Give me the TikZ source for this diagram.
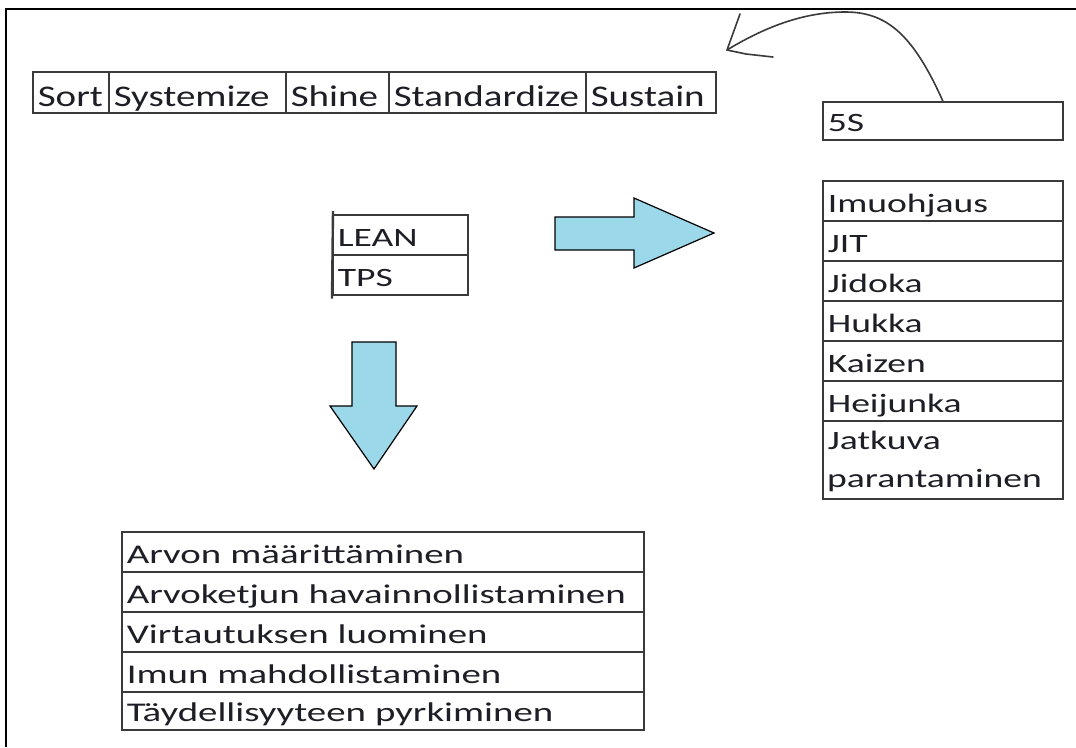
\documentclass[tikz,border=0pt]{standalone}
\usepackage{fontspec}
\newfontfamily\listfont[FakeStretch=1.42]{Carlito}
\newfontfamily\widelistfont[FakeStretch=1.44]{Carlito}
\newfontfamily\rowfont[FakeStretch=1.3]{Carlito}
\definecolor{rule}{HTML}{3A3A3A}
\definecolor{ink}{HTML}{1E1E26}
\definecolor{arrowfill}{HTML}{9BD8EA}
\begin{document}
\begin{tikzpicture}[x=1pt, y=-1pt,
  frame/.style={draw=black, line width=1.4pt},
  cell/.style={draw=rule, line width=1.6pt, rectangle, anchor=north west,
    inner xsep=5pt, inner ysep=0pt, text=ink, align=left},
  rowcell/.style={cell, font=\rowfont\fontsize{30}{36}\selectfont,
    minimum height=41pt, text height=35pt, text depth=6pt},
  listcell/.style={cell, font=\listfont\fontsize{26.5}{38}\selectfont,
    minimum height=40pt, text height=32pt, text depth=8pt},
  principle/.style={listcell, font=\widelistfont\fontsize{27}{38}\selectfont,
    minimum width=522pt, text width=512pt},
  tool/.style={listcell, minimum width=240pt, text width=230pt},
  blockarrow/.style={draw=black, line width=1.2pt, fill=arrowfill, line join=miter},
  sketch/.style={draw=rule, line width=1.6pt, line cap=round, line join=round}
]
\useasboundingbox (0,0) rectangle (1076,747);

% page frame: top and left edges only
\draw[frame] (6,747) -- (6,9) -- (1076,9);

% 5S row
\node[rowcell, minimum width=76pt,  text width=66pt]  (sort)  at (32,71)  {Sort};
\node[rowcell, minimum width=177pt, text width=167pt] (syst)  at (108,71) {Systemize};
\node[rowcell, minimum width=103pt, text width=93pt]  (shine) at (285,71) {Shine};
\node[rowcell, minimum width=197pt, text width=187pt] (stand) at (388,71) {Standardize};
\node[rowcell, minimum width=130pt, text width=120pt] (sust)  at (585,71) {Sustain};

% 5S box and its hand-drawn pointer back to the row
\node[tool, minimum height=38pt, text height=30pt] (fives) at (822,101) {5S};
\coordinate (tip) at (727,50);
\draw[sketch] (fives.north) .. controls (912,32) and (885,12) .. (845,12)
  .. controls (800,12) and (760,30) .. (tip);
\draw[sketch] (740,14) -- (tip) -- (746,54) -- (773,57);

% LEAN / TPS
\node[listcell, minimum width=135pt, text width=125pt] (lean) at (332,214) {LEAN};
\node[listcell, minimum width=135pt, text width=125pt] (tps)  at (332,254) {TPS};
\draw[rule, line width=2.4pt] (lean.north west) ++(1,-3) -- ([yshift=-3pt]tps.south west);

% block arrows
\draw[blockarrow] (555,217) -- (634,217) -- (634,198) -- (714,233)
  -- (634,268) -- (634,250) -- (555,250) -- cycle;
\draw[blockarrow] (352,342) -- (396,342) -- (396,406) -- (417,406)
  -- (374,469) -- (330,406) -- (352,406) -- cycle;

% tools list
\node[tool] (imu) at (822,180) {Imuohjaus};
\node[tool] (jit) at (822,220) {JIT};
\node[tool] (jid) at (822,260) {Jidoka};
\node[tool] (huk) at (822,300) {Hukka};
\node[tool] (kai) at (822,340) {Kaizen};
\node[tool] (hei) at (822,380) {Heijunka};
\node[tool, minimum height=78pt, text height=29pt, text depth=49pt] (jat) at (822,420) {Jatkuva};
\node[anchor=base west, inner sep=0pt, text=ink,
      font=\listfont\fontsize{26.5}{38}\selectfont] (jat2) at (827,487) {parantaminen};

% lean principles
\node[principle] (p1) at (121,531) {Arvon määrittäminen};
\node[principle] (p2) at (121,571) {Arvoketjun havainnollistaminen};
\node[principle] (p3) at (121,611) {Virtautuksen luominen};
\node[principle] (p4) at (121,651) {Imun mahdollistaminen};
\node[principle, minimum height=38pt, text height=30pt] (p5) at (121,691) {Täydellisyyteen pyrkiminen};
\end{tikzpicture}
\end{document}
